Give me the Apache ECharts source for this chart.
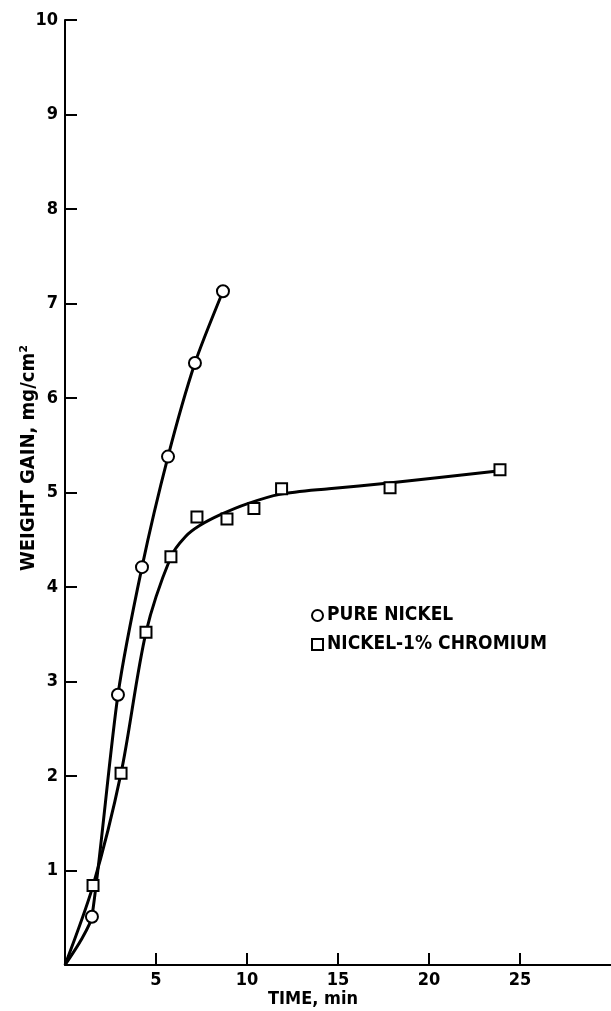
<!DOCTYPE html>
<html><head><meta charset="utf-8">
<script src="https://cdn.jsdelivr.net/npm/echarts@6/dist/echarts.min.js"></script>
<style>html,body{margin:0;padding:0;background:#fff}#c{width:611px;height:1011px}</style>
</head><body><div id="c"></div>
<script>
// Tick labels
const xTicks = [5, 10, 15, 20, 25];
const yTicks = [1, 2, 3, 4, 5, 6, 7, 8, 9, 10];
// Measured points (time min, weight gain mg/cm2)
const nickelPoints = [[1.48, 0.51], [2.91, 2.86], [4.23, 4.21], [5.66, 5.38], [7.14, 6.37], [8.68, 7.13]];
const chromiumPoints = [[1.54, 0.84], [3.08, 2.03], [4.45, 3.52], [5.82, 4.32], [7.25, 4.74], [8.9, 4.72], [10.38, 4.83], [11.9, 5.04], [17.86, 5.05], [23.9, 5.24]];
// Fitted curves
const nickelCurve = [[0, 0], [0.9, 0.27], [1.48, 0.51], [2.91, 2.86], [4.23, 4.21], [5.66, 5.38], [7.14, 6.37], [8.68, 7.13]];
const chromiumCurve = [[0, 0], [1.54, 0.84], [3.08, 2.03], [4.45, 3.52], [5.82, 4.32], [6.6, 4.53], [7.4, 4.65], [8.6, 4.77], [10.0, 4.88], [11.8, 4.98], [14.5, 5.04], [17.8, 5.10], [23.9, 5.23]];
const seriesNames = ['PURE NICKEL', 'NICKEL-1% CHROMIUM'];

const FONT = "'Liberation Sans Narrow', 'DejaVu Sans Condensed', 'Liberation Sans', sans-serif";
const chart = echarts.init(document.getElementById('c'), null, {renderer: 'canvas'});
const axisCommon = {
  type: 'value',
  axisLine: {show: true, lineStyle: {color: '#000', width: 2}},
  axisTick: {show: true, inside: true, length: 12, lineStyle: {color: '#000', width: 2}},
  splitLine: {show: false},
  axisLabel: {color: '#000', fontSize: 18, fontWeight: 'bold', fontFamily: FONT}
};
chart.setOption({
  animation: false,
  backgroundColor: '#fff',
  grid: {left: 65, right: 0, top: 20, bottom: 46},
  xAxis: Object.assign({}, axisCommon, {
    min: 0, max: 30, interval: 5,
    axisTick: Object.assign({}, axisCommon.axisTick, {customValues: xTicks}),
    axisLabel: Object.assign({}, axisCommon.axisLabel, {customValues: xTicks, margin: 6})
  }),
  yAxis: Object.assign({}, axisCommon, {
    min: 0, max: 10, interval: 1,
    axisTick: Object.assign({}, axisCommon.axisTick, {customValues: yTicks}),
    axisLabel: Object.assign({}, axisCommon.axisLabel, {customValues: yTicks, margin: 7})
  }),
  legend: {
    orient: 'vertical', left: 306, top: 601, itemGap: 10,
    itemWidth: 11, itemHeight: 11,
    data: [{name: seriesNames[0], icon: 'circle'}, {name: seriesNames[1], icon: 'rect'}],
    textStyle: {color: '#000', fontSize: 19, fontWeight: 'bold', fontFamily: FONT, padding: [0, 0, 0, -1]}
  },
  graphic: [
    {type: 'text', x: 29, y: 458, rotation: Math.PI / 2,
     style: {text: 'WEIGHT GAIN, mg/cm²', align: 'center', verticalAlign: 'middle', fill: '#000',
             font: 'bold 20px ' + FONT}},
    {type: 'text', x: 313, y: 999,
     style: {text: 'TIME, min', align: 'center', verticalAlign: 'middle', fill: '#000',
             font: 'bold 18px ' + FONT}}
  ],
  series: [
    {name: 'nickel-fit', type: 'line', data: nickelCurve, smooth: 0.25, showSymbol: false,
     lineStyle: {color: '#000', width: 3}, z: 2, silent: true},
    {name: 'chromium-fit', type: 'line', data: chromiumCurve, smooth: 0.3, showSymbol: false,
     lineStyle: {color: '#000', width: 3}, z: 2, silent: true},
    {name: seriesNames[0], type: 'scatter', data: nickelPoints, symbol: 'circle', symbolSize: 12,
     itemStyle: {color: '#fff', borderColor: '#000', borderWidth: 2, opacity: 1}, z: 5},
    {name: seriesNames[1], type: 'scatter', data: chromiumPoints, symbol: 'rect', symbolSize: 11,
     itemStyle: {color: '#fff', borderColor: '#000', borderWidth: 2, opacity: 1}, z: 5}
  ]
});
</script></body></html>
